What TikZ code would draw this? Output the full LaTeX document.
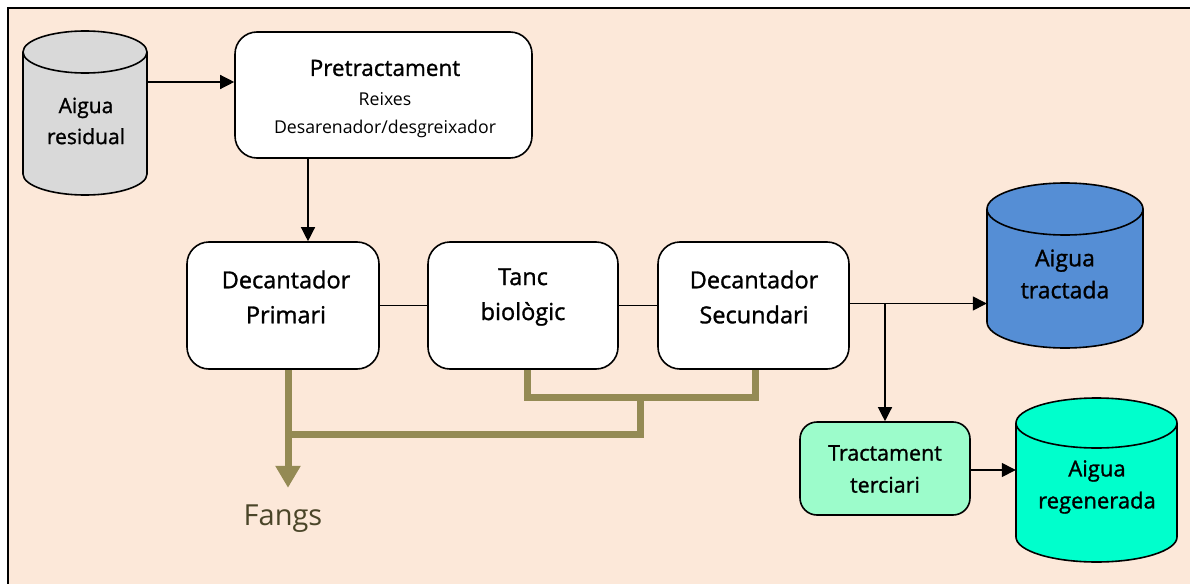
\documentclass[tikz,border=0pt]{standalone}
\usepackage{fontspec}
\setmainfont{Open Sans}
\newfontfamily\heavy{Open Sans}[FakeBold=1.2]
\usetikzlibrary{arrows.meta,calc}
\definecolor{peach}{RGB}{252,232,217}
\definecolor{olive}{RGB}{148,138,84}
\definecolor{fangtxt}{RGB}{74,69,40}
\definecolor{resgray}{RGB}{217,217,217}
\definecolor{tracblue}{RGB}{85,142,213}
\definecolor{regaqua}{RGB}{0,255,204}
\definecolor{terfill}{RGB}{156,252,203}
\tikzset{
  box/.style={draw=black, line width=1.6pt, fill=white, rounded corners=22pt, inner sep=0pt},
  lbl/.style={font=\heavy\fontsize{23.5}{35}\selectfont, align=center, inner sep=0pt},
  cylbody/.style={draw=black, line width=1.6pt},
  arr/.style={draw=black, line width=1.3pt, -{Triangle[width=14pt,length=14pt]}},
  link/.style={draw=black, line width=1.1pt},
  sludge/.style={draw=olive, line width=7pt},
  sludgearr/.style={draw=olive, line width=7pt, -{Triangle[width=24pt,length=22pt]}},
}
\begin{document}
\begin{tikzpicture}[x=1pt,y=-1pt]
\useasboundingbox (0,0) rectangle (1190,583);
\fill[white] (0,0) rectangle (1190,583);
\draw[fill=peach, line width=2.4pt] (8,8) rectangle (1220,620);

% Aigua residual
\filldraw[cylbody, fill=resgray] (23,52) -- (23,174)
  arc[start angle=180, end angle=360, x radius=62pt, y radius=21pt] -- (147,52)
  arc[start angle=0, end angle=180, x radius=62pt, y radius=21pt] -- cycle;
\draw[cylbody] (23,52) arc[start angle=180, end angle=360, x radius=62pt, y radius=21pt];
\node[minimum width=124pt, minimum height=164pt, inner sep=0pt] (res) at (85,113) {};
\node[lbl, font=\heavy\fontsize{21}{31}\selectfont] (rest) at (86,121) {Aigua\\residual};

% Aigua tractada
\filldraw[cylbody, fill=tracblue] (987,209) -- (987,322)
  arc[start angle=180, end angle=360, x radius=78pt, y radius=26pt] -- (1143,209)
  arc[start angle=0, end angle=180, x radius=78pt, y radius=26pt] -- cycle;
\draw[cylbody] (987,209) arc[start angle=180, end angle=360, x radius=78pt, y radius=26pt];
\node[minimum width=156pt, minimum height=165pt, inner sep=0pt] (trac) at (1065,265.5) {};
\node[lbl, font=\heavy\fontsize{23}{32}\selectfont] (tract) at (1065,274) {Aigua\\tractada};

% Aigua regenerada
\filldraw[cylbody, fill=regaqua] (1016,423) -- (1016,537)
  arc[start angle=180, end angle=360, x radius=80.5pt, y radius=25pt] -- (1177,423)
  arc[start angle=0, end angle=180, x radius=80.5pt, y radius=25pt] -- cycle;
\draw[cylbody] (1016,423) arc[start angle=180, end angle=360, x radius=80.5pt, y radius=25pt];
\node[minimum width=161pt, minimum height=164pt, inner sep=0pt] (reg) at (1096.5,480) {};
\node[lbl, font=\heavy\fontsize{22}{32}\selectfont] (regt) at (1097,487) {Aigua\\regenerada};

% boxes
\node[box, minimum width=297pt, minimum height=126pt] (pre) at (383.5,95) {};
\node[lbl, font=\heavy\fontsize{22.5}{28}\selectfont] (pret) at (385,68) {Pretractament};
\node[lbl, font=\fontsize{17.7}{28}\selectfont] (pres) at (385,115) {Reixes\\Desarenador/desgreixador};

\node[box, minimum width=192pt, minimum height=127pt] (dp) at (283,305.5) {};
\node[lbl] (dpt) at (286,297) {Decantador\\Primari};

\node[box, minimum width=190pt, minimum height=127pt] (tb) at (523,305.5) {};
\node[lbl] (tbt) at (523,297) {Tanc\\biològic};

\node[box, minimum width=191pt, minimum height=127pt] (ds) at (753.5,305.5) {};
\node[lbl] (dst) at (754,297) {Decantador\\Secundari};

\node[box, fill=terfill, rounded corners=17pt, minimum width=170pt, minimum height=93pt] (tt) at (885,468.5) {};
\node[lbl, font=\heavy\fontsize{21.5}{32}\selectfont] (ttt) at (885,469) {Tractament\\terciari};

\node[lbl, font=\fontsize{29}{30}\selectfont, text=fangtxt] (fangs) at (283,519) {Fangs};

% black connectors
\draw[arr] ([yshift=31pt]res.east) -- ([yshift=31pt]res.east -| pre.west);
\draw[arr] ([xshift=25pt]dp.north |- pre.south) -- ([xshift=25pt]dp.north);
\draw[link] (dp.east) -- (tb.west);
\draw[link] (tb.east) -- (ds.west);
\draw[arr] ([yshift=2pt]ds.east) -- ([yshift=2pt]ds.east -| trac.west);
\draw[arr] ([yshift=2pt]ds.east -| tt.north) -- (tt.north);
\draw[arr] ([yshift=-1.5pt]tt.east) -- ([yshift=-1.5pt]tt.east -| reg.west);

% sludge lines
\coordinate (j1) at (640,397);
\coordinate (j2) at (288,434);
\draw[sludge] ([xshift=4pt]tb.south) |- ([xshift=2pt]ds.south |- j1) -- ([xshift=2pt]ds.south);
\draw[sludge] (j1) -- (j1 |- j2) -- (j2);
\draw[sludgearr] ([xshift=5pt]dp.south) -- ++(0,118);
\end{tikzpicture}
\end{document}
